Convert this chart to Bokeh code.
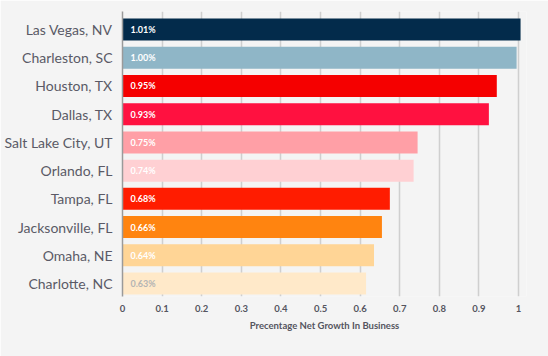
from bokeh.plotting import figure
from bokeh.models import Range1d, ColumnDataSource, FixedTicker, LabelSet
from bokeh.core.properties import value
from bokeh.embed import file_html
from bokeh.resources import INLINE

cities = ["Las Vegas, NV", "Charleston, SC", "Houston, TX", "Dallas, TX", "Salt Lake City, UT",
          "Orlando, FL", "Tampa, FL", "Jacksonville, FL", "Omaha, NE", "Charlotte, NC"]
values = [1.005, 0.995, 0.945, 0.925, 0.745, 0.735, 0.675, 0.655, 0.635, 0.615]
labels = ["1.01%", "1.00%", "0.95%", "0.93%", "0.75%", "0.74%", "0.68%", "0.66%", "0.64%", "0.63%"]
colors = ["#032b4b", "#8fb6c7", "#f50000", "#ff1140", "#ff9fa6", "#ffd0d3",
          "#ff1c00", "#ff8410", "#ffd596", "#ffe9c9"]
label_colors = ["#ffffff"] * 9 + ["#b4b4b4"]
x_ticks = [0, 0.1, 0.2, 0.3, 0.4, 0.5, 0.6, 0.7, 0.8, 0.9, 1]
x_tick_labels = ["0", "0.1", "0.2", "0.3", "0.4", "0.5", "0.6", "0.7", "0.8", "0.9", "1"]

idx = list(range(len(cities)))
src = ColumnDataSource(dict(y=idx, v=values, lab=labels, c=colors, lc=label_colors,
                            x0=[0.02] * len(idx)))

BG = "#f4f4f4"
p = figure(width=548, height=356, output_backend="svg", toolbar_location=None,
           x_range=Range1d(0, 1.02), y_range=Range1d(9.46, -0.64),
           min_border_left=122, min_border_right=22, min_border_top=11, min_border_bottom=60,
           background_fill_color=BG, border_fill_color=BG, outline_line_color=None)

p.hbar(y="y", right="v", left=0, height=0.78, fill_color="c", line_color=None, source=src)

p.add_layout(LabelSet(x="x0", y="y", text="lab", text_color="lc", source=src,
                      text_font=value("Lato"), text_font_size=value("9px"),
                      text_font_style="bold",
                      text_baseline="middle", text_align="left"))

p.xaxis.ticker = FixedTicker(ticks=x_ticks)
p.xaxis.major_label_overrides = {t: l for t, l in zip(x_ticks, x_tick_labels)}
p.xaxis.axis_line_color = None
p.xaxis.major_tick_line_color = None
p.xaxis.major_tick_out = 0
p.xaxis.major_tick_in = 0
p.xaxis.minor_tick_line_color = None
p.xaxis.major_label_text_font = "Lato"
p.xaxis.major_label_text_font_size = "9.5px"
p.xaxis.major_label_text_font_style = "bold"
p.xaxis.major_label_text_color = "#55555f"
p.xaxis.major_label_standoff = 8
p.xaxis.axis_label = "Precentage Net Growth In Business"
p.xaxis.axis_label_text_font = "Lato"
p.xaxis.axis_label_text_font_size = "9.5px"
p.xaxis.axis_label_text_font_style = "bold"
p.xaxis.axis_label_text_color = "#55555f"
p.xaxis.axis_label_standoff = 5

p.yaxis.ticker = FixedTicker(ticks=idx)
p.yaxis.major_label_overrides = {i: c for i, c in zip(idx, cities)}
p.yaxis.axis_line_color = "#9a9a9a"
p.yaxis.axis_line_width = 1.5
p.yaxis.major_tick_line_color = None
p.yaxis.major_tick_out = 0
p.yaxis.major_tick_in = 0
p.yaxis.minor_tick_line_color = None
p.yaxis.major_label_text_font = "Lato"
p.yaxis.major_label_text_font_size = "14px"
p.yaxis.major_label_text_color = "#5a5a66"
p.yaxis.major_label_standoff = 10

p.xgrid.grid_line_color = "#cfcfcf"
p.xgrid.grid_line_width = 1.5
p.ygrid.grid_line_color = None

open("out.html", "w").write(file_html(p, INLINE))
